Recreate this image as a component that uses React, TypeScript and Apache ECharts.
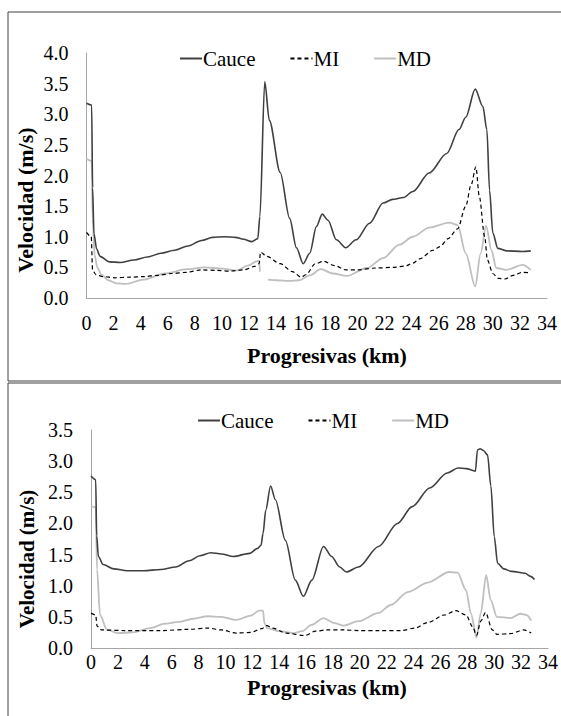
import React, { useEffect, useRef } from "react";
import * as echarts from "echarts";

// ---------- Data ----------
const seriesNames = ["Cauce", "MI", "MD"];
const xTicks = { min: 0, max: 34, interval: 2 };

// Top panel
const topCauceKm = [0, 0.38, 0.45, 0.55, 0.75, 1.0, 1.7, 2.5, 3.5, 4.5, 5.5, 6.5, 7.5, 8.5, 9.3, 10.2, 11.0, 11.6, 12.2, 12.65, 12.8, 13.16, 13.5, 14.3, 15.0, 15.5, 16.0, 16.48, 16.98, 17.4, 17.83, 18.45, 19.14, 19.9, 20.9, 21.9, 22.6, 23.4, 24.1, 25.3, 26.6, 27.5, 28.0, 28.7, 29.26, 29.56, 29.76, 30.0, 30.37, 31.0, 32.2, 32.8];
const topCauceV = [3.18, 3.15, 1.8, 1.05, 0.8, 0.68, 0.59, 0.58, 0.62, 0.67, 0.73, 0.78, 0.85, 0.94, 0.99, 1.0, 0.99, 0.96, 0.92, 0.97, 1.33, 3.53, 2.9, 2.05, 1.3, 0.82, 0.56, 0.73, 1.17, 1.37, 1.27, 0.95, 0.82, 0.95, 1.22, 1.55, 1.61, 1.64, 1.74, 2.04, 2.36, 2.75, 2.95, 3.41, 3.13, 2.75, 1.76, 1.06, 0.81, 0.77, 0.76, 0.77];

const topMIKm = [0, 0.35, 0.45, 0.7, 1.2, 2.1, 3.2, 4.2, 5.3, 6.3, 7.4, 8.5, 9.6, 10.6, 11.6, 12.5, 12.75, 12.85, 13.3, 14.3, 15.2, 15.85, 16.2, 16.9, 17.5, 18.3, 19.15, 20.0, 21.4, 22.7, 23.5, 24.1, 24.6, 25.6, 26.1, 26.7, 27.4, 28.0, 28.4, 28.75, 29.0, 29.4, 29.6, 30.0, 30.4, 30.9, 31.5, 32.2, 32.8];
const topMIV = [1.07, 1.0, 0.45, 0.38, 0.35, 0.33, 0.34, 0.35, 0.37, 0.4, 0.42, 0.46, 0.45, 0.44, 0.46, 0.52, 0.56, 0.75, 0.68, 0.56, 0.43, 0.34, 0.38, 0.56, 0.6, 0.53, 0.46, 0.46, 0.49, 0.5, 0.52, 0.57, 0.64, 0.78, 0.84, 0.97, 1.13, 1.5, 1.85, 2.14, 1.66, 1.0, 0.62, 0.4, 0.32, 0.31, 0.37, 0.42, 0.41];

const topMDKm = [0, 0.38, 0.45, 0.6, 0.8, 1.1, 1.6, 2.2, 2.9, 4.2, 5.8, 7.4, 8.7, 10.0, 11.1, 11.9, 12.6, 12.75, 12.8, 13.1, 13.4, 14.0, 15.0, 15.7, 16.5, 17.3, 18.2, 19.2, 20.7, 21.9, 23.1, 24.1, 25.3, 26.8, 27.4, 28.0, 28.7, 29.1, 29.5, 29.9, 30.25, 31.0, 32.2, 32.8];
const topMDV = [2.27, 2.24, 1.3, 0.7, 0.5, 0.38, 0.29, 0.24, 0.23, 0.3, 0.4, 0.47, 0.5, 0.48, 0.45, 0.53, 0.6, 0.61, 0.43, null, 0.3, 0.29, 0.28, 0.29, 0.37, 0.47, 0.4, 0.36, 0.49, 0.65, 0.87, 1.0, 1.15, 1.23, 1.19, 0.73, 0.19, 0.73, 1.18, 0.78, 0.49, 0.46, 0.54, 0.46];

// Bottom panel
const botCauceKm = [0, 0.35, 0.42, 0.55, 0.9, 1.7, 2.7, 3.9, 5.2, 6.3, 7.3, 8.1, 8.9, 9.7, 10.6, 11.8, 12.4, 12.65, 12.8, 13.0, 13.36, 13.72, 14.46, 15.2, 15.8, 16.43, 17.3, 17.9, 18.5, 19.0, 19.9, 21.4, 22.8, 23.9, 25.2, 26.5, 27.3, 27.9, 28.6, 28.75, 28.95, 29.2, 29.5, 29.75, 30.0, 30.25, 30.7, 31.3, 32.3, 32.7, 33.0];
const botCauceV = [2.76, 2.7, 1.8, 1.47, 1.34, 1.27, 1.24, 1.24, 1.26, 1.3, 1.4, 1.48, 1.53, 1.51, 1.47, 1.52, 1.6, 1.65, 1.84, 2.21, 2.6, 2.38, 1.73, 1.09, 0.83, 1.09, 1.63, 1.47, 1.3, 1.22, 1.3, 1.63, 2.0, 2.27, 2.57, 2.81, 2.89, 2.88, 2.84, 3.18, 3.2, 3.17, 3.1, 2.6, 1.79, 1.36, 1.27, 1.23, 1.2, 1.15, 1.1];

const botMIKm = [0, 0.35, 0.45, 0.8, 2.5, 5.2, 7.3, 8.7, 9.7, 10.8, 11.9, 12.7, 13.07, 13.5, 14.5, 15.9, 16.7, 17.5, 18.8, 19.9, 21.4, 23.1, 24.1, 25.05, 26.3, 27.15, 27.9, 28.4, 28.68, 29.0, 29.35, 29.86, 30.2, 31.2, 32.2, 32.75];
const botMIV = [0.56, 0.53, 0.35, 0.29, 0.28, 0.28, 0.3, 0.32, 0.29, 0.24, 0.25, 0.31, 0.36, 0.32, 0.24, 0.2, 0.27, 0.29, 0.29, 0.28, 0.28, 0.28, 0.32, 0.41, 0.53, 0.6, 0.53, 0.34, 0.2, 0.43, 0.57, 0.29, 0.22, 0.23, 0.29, 0.24];

const botMDKm = [0, 0.35, 0.45, 0.67, 1.2, 2.0, 3.1, 4.4, 5.5, 6.5, 7.6, 8.7, 9.7, 10.8, 11.9, 12.5, 12.8, 12.9, 13.1, 14.0, 15.1, 15.7, 16.4, 17.3, 18.1, 18.8, 19.9, 21.36, 22.3, 23.6, 25.05, 26.66, 27.27, 27.9, 28.26, 28.68, 29.0, 29.4, 29.74, 30.2, 31.2, 31.95, 32.4, 32.75];
const botMDV = [2.28, 2.26, 1.26, 0.53, 0.29, 0.24, 0.25, 0.32, 0.39, 0.42, 0.47, 0.51, 0.5, 0.45, 0.52, 0.6, 0.6, 0.4, 0.32, 0.27, 0.24, 0.27, 0.37, 0.48, 0.4, 0.36, 0.43, 0.56, 0.69, 0.9, 1.05, 1.22, 1.21, 0.93, 0.56, 0.17, 0.56, 1.17, 0.77, 0.5, 0.48, 0.55, 0.53, 0.44];

// ---------- Helpers ----------
const FONT = "Liberation Serif, Times New Roman, Times, serif";
const zip = (km: number[], v: (number | null)[]) =>
  km.map((k, i) => [k, v[i] === null ? "-" : v[i]]);

const seriesStyles = [
  { color: "#404040", width: 1.6, type: "solid" },
  { color: "#000000", width: 1.2, type: [4, 3] },
  { color: "#bfbfbf", width: 1.8, type: "solid" },
];

function makeSeries(name: string, idx: number, data: any[], styleIdx: number) {
  const s = seriesStyles[styleIdx];
  return {
    name,
    type: "line",
    xAxisIndex: idx,
    yAxisIndex: idx,
    data,
    symbol: "none",
    showSymbol: false,
    smooth: 0.3,
    smoothMonotone: "x",
    connectNulls: false,
    color: s.color,
    lineStyle: { color: s.color, width: s.width, type: s.type },
    z: styleIdx === 0 ? 4 : styleIdx === 1 ? 3 : 2,
  };
}

function xAxis(gridIndex: number, margin: number) {
  return {
    gridIndex,
    type: "value",
    min: xTicks.min,
    max: xTicks.max,
    interval: xTicks.interval,
    axisLine: { show: true, lineStyle: { color: "#a6a6a6", width: 1 } },
    axisTick: { show: false },
    splitLine: { show: false },
    axisLabel: { fontFamily: FONT, fontSize: 20, color: "#000", margin },
  };
}

function yAxis(gridIndex: number, max: number) {
  return {
    gridIndex,
    type: "value",
    min: 0,
    max,
    interval: 0.5,
    axisLine: { show: true, lineStyle: { color: "#a6a6a6", width: 1 } },
    axisTick: { show: false },
    splitLine: { show: false },
    axisLabel: {
      fontFamily: FONT,
      fontSize: 20,
      color: "#000",
      margin: 18,
      formatter: (v: number) => v.toFixed(1),
    },
  };
}

function legend(left: number, top: number) {
  return {
    data: seriesNames,
    left,
    top,
    orient: "horizontal",
    itemWidth: 22,
    itemHeight: 12,
    itemGap: 34,
    itemStyle: { opacity: 0 },
    textStyle: { fontFamily: FONT, fontSize: 21, color: "#000", padding: [0, 0, 0, -4] },
  };
}

const borderColor = "#404040";

export default function App() {
  const ref = useRef<HTMLDivElement>(null);
  useEffect(() => {
    if (!ref.current) return;
    const chart = echarts.init(ref.current, null, { renderer: "svg" });
    const option = {
      animation: false,
      backgroundColor: "#ffffff",
      textStyle: { fontFamily: FONT },
      grid: [
        { left: 86.5, right: 14, top: 53, height: 245 },
        { left: 91, right: 10, top: 430, height: 218 },
      ],
      xAxis: [xAxis(0, 15), xAxis(1, 4)],
      yAxis: [yAxis(0, 4), yAxis(1, 3.5)],
      legend: [legend(174, 43), legend(192, 405)],
      series: [
        makeSeries("Cauce", 0, zip(topCauceKm, topCauceV), 0),
        makeSeries("MI", 0, zip(topMIKm, topMIV), 1),
        makeSeries("MD", 0, zip(topMDKm, topMDV), 2),
        makeSeries("Cauce", 1, zip(botCauceKm, botCauceV), 0),
        makeSeries("MI", 1, zip(botMIKm, botMIV), 1),
        makeSeries("MD", 1, zip(botMDKm, botMDV), 2),
      ],
      graphic: [
        {
          type: "polyline",
          shape: { points: [[561, 12], [8, 12], [8, 381], [561, 381]] },
          style: { stroke: borderColor, lineWidth: 1, fill: null },
          silent: true,
        },
        {
          type: "polyline",
          shape: { points: [[561, 383], [8, 383], [8, 716]] },
          style: { stroke: borderColor, lineWidth: 1, fill: null },
          silent: true,
        },
        {
          type: "text",
          x: 25,
          y: 200,
          rotation: Math.PI / 2,
          style: {
            text: "Velocidad (m/s)",
            fontFamily: FONT,
            fontWeight: "bold",
            fontSize: 22,
            fill: "#000",
            align: "center",
            verticalAlign: "middle",
          },
        },
        {
          type: "text",
          x: 327,
          y: 355,
          style: {
            text: "Progresivas (km)",
            fontFamily: FONT,
            fontWeight: "bold",
            fontSize: 22,
            fill: "#000",
            align: "center",
            verticalAlign: "middle",
          },
        },
        {
          type: "text",
          x: 27,
          y: 559,
          rotation: Math.PI / 2,
          style: {
            text: "Velocidad (m/s)",
            fontFamily: FONT,
            fontWeight: "bold",
            fontSize: 21,
            fill: "#000",
            align: "center",
            verticalAlign: "middle",
          },
        },
        {
          type: "text",
          x: 327,
          y: 687,
          style: {
            text: "Progresivas (km)",
            fontFamily: FONT,
            fontWeight: "bold",
            fontSize: 22,
            fill: "#000",
            align: "center",
            verticalAlign: "middle",
          },
        },
      ],
    };
    chart.setOption(option as any);
    return () => chart.dispose();
  }, []);
  return (
    <div
      ref={ref}
      style={{ position: "absolute", left: 0, top: 0, width: 561, height: 716 }}
    />
  );
}
